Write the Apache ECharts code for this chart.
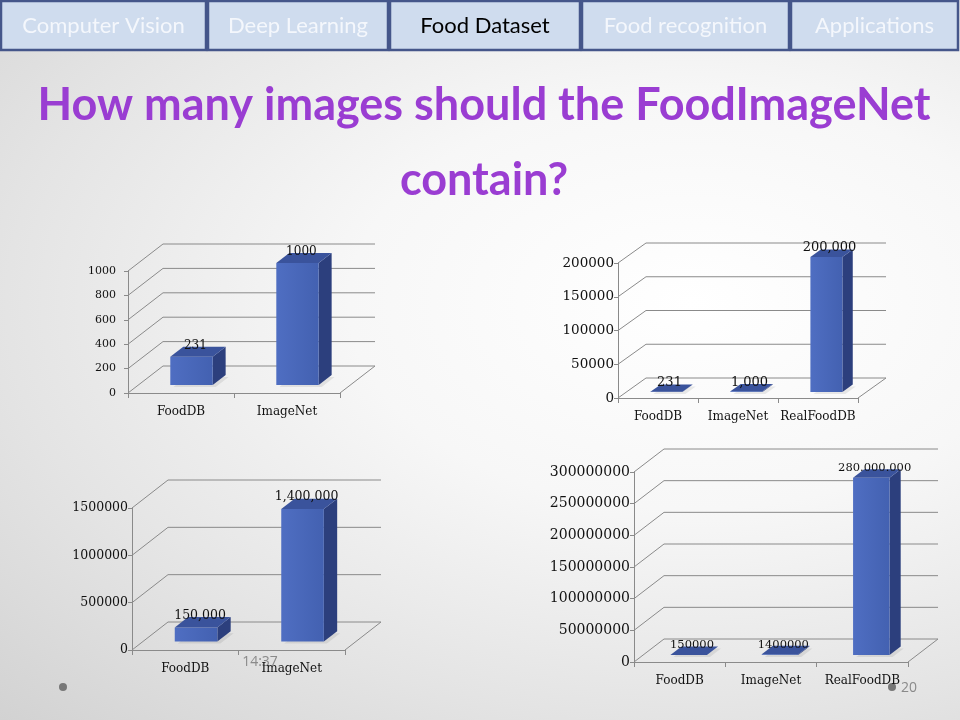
<!DOCTYPE html>
<html>
<head>
    <meta charset="utf-8">
    <title>FoodImageNet</title>
    <script src="https://cdn.jsdelivr.net/npm/echarts@6/dist/echarts.min.js"></script>
    <style>
        body { margin: 0; }
        #chart {
            width: 960px; height: 720px;
            background: radial-gradient(ellipse at 72% 42%, #ffffff 0%, #f7f7f7 35%, #e4e4e4 70%, #d2d2d2 100%);
        }
    </style>
</head>
<body>
    <div id="chart"></div>

    <script>
        // data
        const cats1 = ['FoodDB', 'ImageNet'];
        const vals1 = [231, 1000];
        const text1 = ['231', '1000'];
        const ticks1 = [0, 200, 400, 600, 800, 1000];

        const cats2 = ['FoodDB', 'ImageNet', 'RealFoodDB'];
        const vals2 = [231, 1000, 200000];
        const text2 = ['231', '1,000', '200,000'];
        const ticks2 = [0, 50000, 100000, 150000, 200000];

        const cats3 = ['FoodDB', 'ImageNet'];
        const vals3 = [150000, 1400000];
        const text3 = ['150,000', '1,400,000'];
        const ticks3 = [0, 500000, 1000000, 1500000];

        const cats4 = ['FoodDB', 'ImageNet', 'RealFoodDB'];
        const vals4 = [150000, 1400000, 280000000];
        const text4 = ['150000', '1400000', '280.000.000'];
        const ticks4 = [0, 50000000, 100000000, 150000000, 200000000, 250000000, 300000000];

        const tabs = ['Computer Vision', 'Deep Learning', 'Food Dataset', 'Food recognition', 'Applications'];
        const activeTab = 2;

        // layout of each small chart (front plane + depth offset)
        const panels = [
            { cats: cats1, vals: vals1, text: text1, ticks: ticks1, left: 128, top: 271, width: 212, height: 122, dx: 35, dy: -27, yFont: 11, yMargin: 12, lFont: 12 },
            { cats: cats2, vals: vals2, text: text2, ticks: ticks2, left: 618, top: 263, width: 240, height: 135, dx: 28, dy: -20, yFont: 13.5, yMargin: 4, lFont: 13 },
            { cats: cats3, vals: vals3, text: text3, ticks: ticks3, left: 132, top: 508, width: 213, height: 142, dx: 36, dy: -28, yFont: 12.5, yMargin: 4, lFont: 12.5 },
            { cats: cats4, vals: vals4, text: text4, ticks: ticks4, left: 634, top: 472, width: 274, height: 190, dx: 30, dy: -23, yFont: 14, yMargin: 4, lFont: 11.5 }
        ];

        const serif = 'DejaVu Serif';
        const lineGray = '#8a8a8a';

        const chart = echarts.init(document.getElementById('chart'));

        const grid = [], xAxis = [], yAxis = [], series = [];

        panels.forEach(function (p, k) {
            grid.push({ left: p.left, top: p.top, width: p.width, height: p.height });
            xAxis.push({
                type: 'category', gridIndex: k, data: p.cats, boundaryGap: true,
                axisLine: { lineStyle: { color: lineGray } },
                axisTick: { show: true, length: 5, lineStyle: { color: lineGray } },
                axisLabel: { color: '#111', fontFamily: serif, fontSize: 12, margin: 13, interval: 0 }
            });
            yAxis.push({
                type: 'value', gridIndex: k, min: 0,
                max: p.ticks[p.ticks.length - 1], interval: p.ticks[1] - p.ticks[0],
                axisLine: { show: true, lineStyle: { color: lineGray } },
                axisTick: { show: true, length: 4, lineStyle: { color: lineGray } },
                splitLine: { show: false },
                axisLabel: {
                    color: '#111', fontFamily: serif, fontSize: p.yFont, margin: p.yMargin,
                    formatter: function (v) { return String(v); }
                }
            });

            // back wall and floor lines
            series.push({
                type: 'custom', xAxisIndex: k, yAxisIndex: k, z: 1, silent: true,
                data: [[0, 0]],
                renderItem: function (params, api) {
                    const cs = params.coordSys;
                    const L = cs.x, R = cs.x + cs.width;
                    const kids = [];
                    const st = { stroke: lineGray, lineWidth: 1 };
                    p.ticks.forEach(function (t) {
                        const y = api.coord([0, t])[1];
                        kids.push({ type: 'line', shape: { x1: L, y1: y, x2: L + p.dx, y2: y + p.dy }, style: st });
                        kids.push({ type: 'line', shape: { x1: L + p.dx, y1: y + p.dy, x2: R + p.dx, y2: y + p.dy }, style: st });
                    });
                    const y0 = api.coord([0, 0])[1];
                    kids.push({ type: 'line', shape: { x1: R, y1: y0, x2: R + p.dx, y2: y0 + p.dy }, style: st });
                    return { type: 'group', children: kids };
                }
            });

            // 3d bars
            series.push({
                type: 'custom', xAxisIndex: k, yAxisIndex: k, z: 5, silent: true,
                data: p.vals.map(function (v, i) { return [i, v]; }),
                renderItem: function (params, api) {
                    const i = api.value(0), v = api.value(1);
                    const base = api.coord([i, 0]);
                    const top = api.coord([i, v]);
                    const bw = api.size([1, 0])[0] * 0.4;
                    const ox = p.dx * 0.3, oy = p.dy * 0.3;
                    const ddx = p.dx * 0.37, ddy = p.dy * 0.37;
                    const xl = base[0] - bw / 2 + ox, xr = xl + bw;
                    const yb = base[1] + oy, yt = top[1] + oy;
                    return {
                        type: 'group',
                        children: [
                            {
                                type: 'polygon',
                                shape: { points: [[xl + 3, yb + 2], [xr + 3, yb + 2], [xr + ddx + 3, yb + ddy + 2], [xl + ddx + 3, yb + ddy + 2]] },
                                style: { fill: 'rgba(0,0,0,0.08)' }
                            },
                            {
                                type: 'polygon',
                                shape: { points: [[xr, yt], [xr + ddx, yt + ddy], [xr + ddx, yb + ddy], [xr, yb]] },
                                style: { fill: '#2c3f7d' }
                            },
                            {
                                type: 'rect',
                                shape: { x: xl, y: yt, width: bw, height: yb - yt },
                                style: {
                                    fill: new echarts.graphic.LinearGradient(0, 0, 1, 0, [
                                        { offset: 0, color: '#4f6ec2' },
                                        { offset: 1, color: '#4361b1' }
                                    ])
                                }
                            },
                            {
                                type: 'polygon',
                                shape: { points: [[xl, yt], [xr, yt], [xr + ddx, yt + ddy], [xl + ddx, yt + ddy]] },
                                style: { fill: '#3a539c' }
                            },
                            {
                                type: 'text',
                                style: {
                                    text: p.text[i],
                                    x: (xl + xr) / 2 + ddx * 0.3, y: yt + ddy + 5,
                                    align: 'center', verticalAlign: 'bottom',
                                    fill: '#111', fontFamily: serif, fontSize: p.lFont
                                }
                            }
                        ]
                    };
                }
            });
        });

        // tab bar, title and footer
        const tabBox = [[1, 206], [208, 388], [390, 580], [582, 789], [791, 958]];
        const graphic = [];
        tabs.forEach(function (t, i) {
            const b = tabBox[i];
            graphic.push({
                type: 'rect', shape: { x: b[0], y: 1, width: b[1] - b[0], height: 49 },
                style: { fill: '#cfdcee', stroke: '#45568a', lineWidth: 2.5 }
            });
            graphic.push({
                type: 'text', x: (b[0] + b[1]) / 2, y: 26,
                style: {
                    text: t, align: 'center', verticalAlign: 'middle',
                    fill: i === activeTab ? '#000' : '#f4f7fc', font: '22px Lato'
                }
            });
        });
        const titleStyle = {
            align: 'center', verticalAlign: 'middle', fill: '#9a3dd2',
            font: 'bold 45px Lato',
            shadowColor: 'rgba(0,0,0,0.35)', shadowBlur: 4, shadowOffsetX: 2, shadowOffsetY: 2
        };
        graphic.push({ type: 'text', x: 484, y: 105, style: Object.assign({ text: 'How many images should the FoodImageNet' }, titleStyle) });
        graphic.push({ type: 'text', x: 484, y: 180, style: Object.assign({ text: 'contain?' }, titleStyle) });
        graphic.push({ type: 'text', x: 260, y: 662, style: { text: '14:37', align: 'center', verticalAlign: 'middle', fill: '#8a8a8a', font: '14px "Open Sans"' } });
        graphic.push({ type: 'circle', shape: { cx: 63, cy: 687, r: 4 }, style: { fill: '#777' } });
        graphic.push({ type: 'circle', shape: { cx: 892, cy: 687, r: 4 }, style: { fill: '#777' } });
        graphic.push({ type: 'text', x: 909, y: 688, style: { text: '20', align: 'center', verticalAlign: 'middle', fill: '#8a8a8a', font: '14px "Open Sans"' } });

        chart.setOption({
            animation: false,
            grid: grid,
            xAxis: xAxis,
            yAxis: yAxis,
            series: series,
            graphic: graphic
        });
    </script>
</body>
</html>
